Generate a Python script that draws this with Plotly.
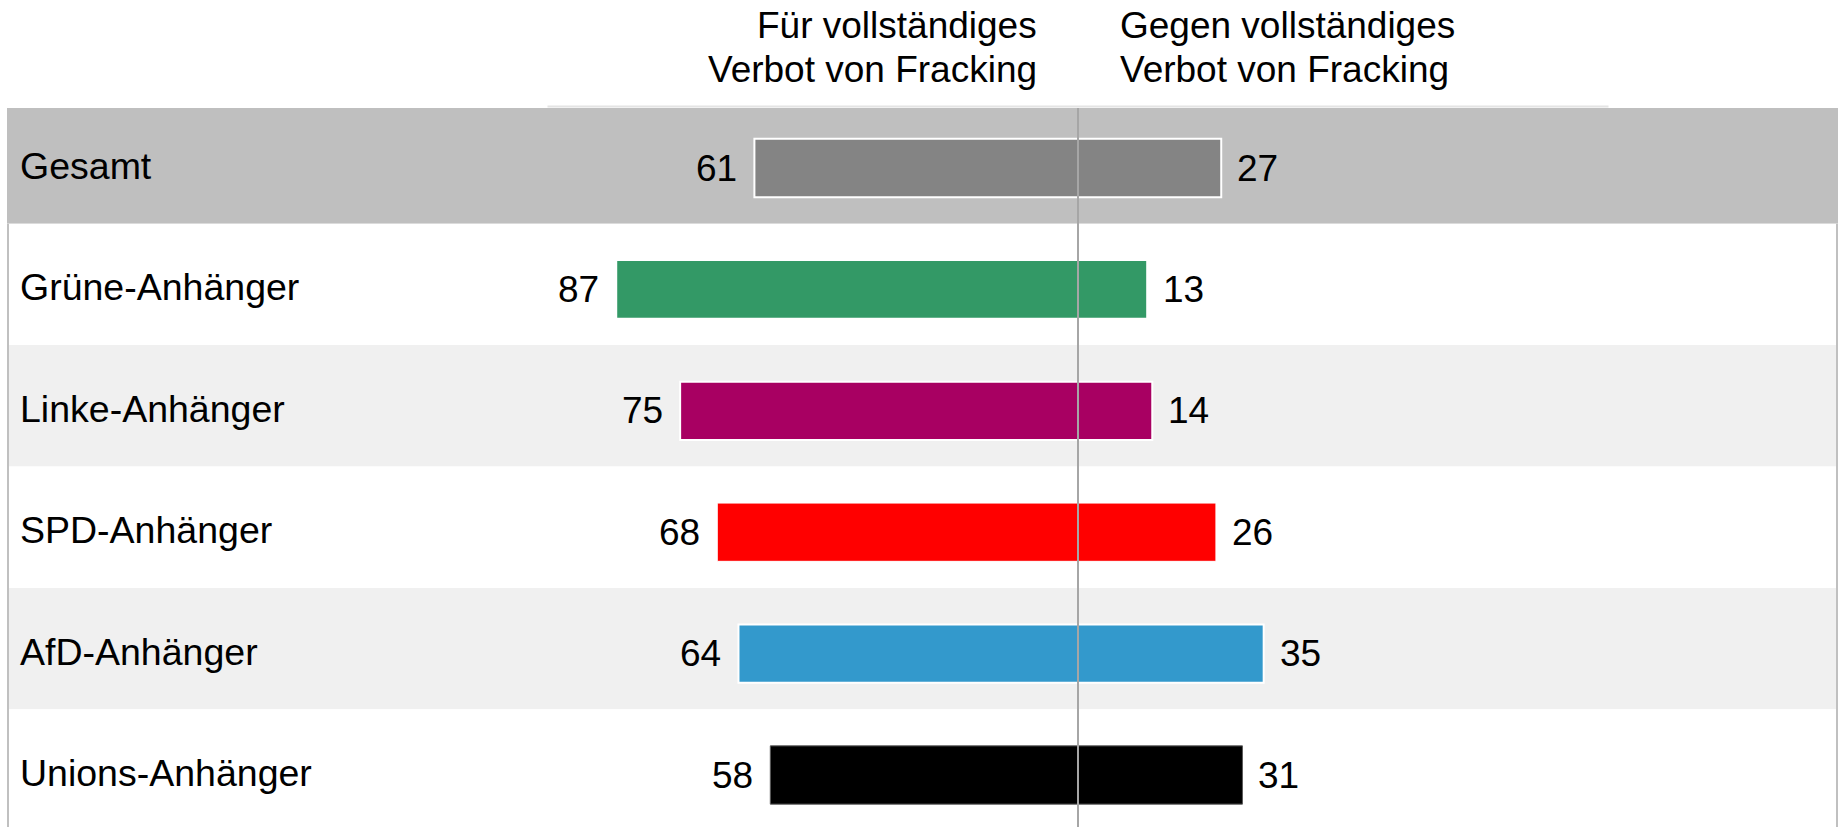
import plotly.graph_objects as go

# ---- data ----
categories = ["Gesamt", "Grüne-Anhänger", "Linke-Anhänger", "SPD-Anhänger", "AfD-Anhänger", "Unions-Anhänger"]
fuer = [61, 87, 75, 68, 64, 58]
gegen = [27, 13, 14, 26, 35, 31]
header_left = ["Für vollständiges", "Verbot von Fracking"]
header_right = ["Gegen vollständiges", "Verbot von Fracking"]

# ---- style ----
bar_colors = ["#848484", "#339966", "#a80062", "#ff0000", "#3399cc", "#000000"]
edge_colors = ["#ffffff", "#ffffff", "#ffffff", "#ffffff", "#ffffff", "#5a5a5a"]
edge_widths = [2, 1.5, 2, 1, 2, 1]
row_fills = ["#bfbfbf", "#ffffff", "#f0f0f0", "#ffffff", "#f0f0f0", "#ffffff"]
FONT = "Liberation Sans, Arial, sans-serif"
FS_LABEL = 37.5
FS_NUM = 37
FS_HEAD = 37

W, H = 1843, 827
L, R, T, B = 6, 3, 105, 0
PX_X, X0PX = 5.305, 1078.0   # pixels per percent, pixel of the zero line
PX_Y, Y0PX = 121.4, 168.0    # pixels per row, pixel of first bar centre


def px2x(p):
    return (p - X0PX) / PX_X


def px2y(p):
    return (p - Y0PX) / PX_Y


ypos = list(range(len(categories)))

fig = go.Figure()
fig.add_trace(go.Bar(
    y=ypos, x=[-v for v in fuer], orientation="h", width=0.48,
    marker=dict(color=bar_colors, line=dict(color=edge_colors, width=edge_widths)),
    hoverinfo="skip", showlegend=False))
fig.add_trace(go.Bar(
    y=ypos, x=gegen, orientation="h", width=0.48,
    marker=dict(color=bar_colors, line=dict(color=edge_colors, width=edge_widths)),
    hoverinfo="skip", showlegend=False))

shapes = []
n = len(categories)
for i in ypos:
    y0 = px2y(108) if i == 0 else i - 0.541
    y1 = px2y(H) if i == n - 1 else i + 0.459
    shapes.append(dict(type="rect", xref="x", yref="y", x0=px2x(7), x1=px2x(1838),
                       y0=y0, y1=y1, fillcolor=row_fills[i], line=dict(width=0), layer="below"))
# thin light line above header band
shapes.append(dict(type="line", xref="x", yref="y", x0=-100, x1=100,
                   y0=px2y(106.5), y1=px2y(106.5), line=dict(color="#e4e4e4", width=2), layer="below"))
# side borders
for xp in (8, 1837):
    shapes.append(dict(type="line", xref="x", yref="y", x0=px2x(xp), x1=px2x(xp),
                       y0=0.459, y1=px2y(H), line=dict(color="#c0c0c0", width=2), layer="below"))
# zero line
shapes.append(dict(type="line", xref="x", yref="y", x0=0, x1=0, y0=px2y(108), y1=px2y(H),
                   line=dict(color="#a6a6a6", width=2), layer="above"))

ann = []
for i, c in enumerate(categories):
    ann.append(dict(x=px2x(L), y=i, xref="x", yref="y", text=c, showarrow=False,
                    xanchor="left", yanchor="middle", xshift=12, yshift=2,
                    font=dict(family=FONT, size=FS_LABEL, color="#000000")))
    ann.append(dict(x=-fuer[i], y=i, xref="x", yref="y", text=str(fuer[i]), showarrow=False,
                    xanchor="right", yanchor="middle", xshift=-15,
                    font=dict(family=FONT, size=FS_NUM, color="#000000")))
    ann.append(dict(x=gegen[i], y=i, xref="x", yref="y", text=str(gegen[i]), showarrow=False,
                    xanchor="left", yanchor="middle", xshift=14,
                    font=dict(family=FONT, size=FS_NUM, color="#000000")))

# header lines: pixel centre of caps measured from top of page
head_centres = [25, 69]
for k, (tl, tr) in enumerate(zip(header_left, header_right)):
    ys = T - head_centres[k]
    ann.append(dict(x=0, y=1, xref="x", yref="paper", text=tl, showarrow=False,
                    xanchor="right", yanchor="middle", xshift=-39, yshift=ys,
                    font=dict(family=FONT, size=FS_HEAD, color="#000000")))
    ann.append(dict(x=0, y=1, xref="x", yref="paper", text=tr, showarrow=False,
                    xanchor="left", yanchor="middle", xshift=40, yshift=ys,
                    font=dict(family=FONT, size=FS_HEAD, color="#000000")))

fig.update_layout(
    width=W, height=H, autosize=False,
    margin=dict(l=L, r=R, t=T, b=B, pad=0),
    barmode="relative",
    paper_bgcolor="#ffffff", plot_bgcolor="#ffffff",
    xaxis=dict(range=[px2x(L), px2x(W - R)], visible=False, fixedrange=True),
    yaxis=dict(range=[px2y(H - B), px2y(T)], visible=False, fixedrange=True),
    shapes=shapes, annotations=ann, showlegend=False,
)

fig.write_html("out.html", config={"displayModeBar": False},
               post_script="document.body.style.margin='0';document.body.style.overflow='hidden';")
